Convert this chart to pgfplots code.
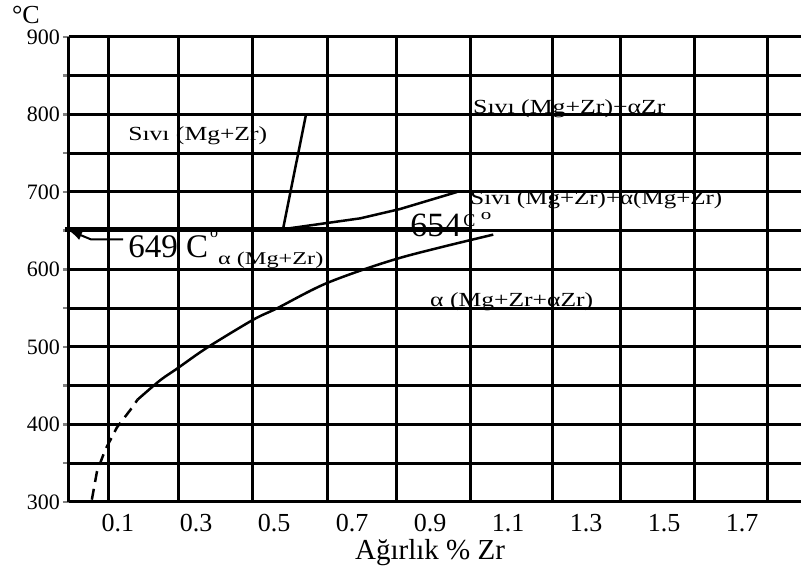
\documentclass[border=0pt]{standalone}
\usepackage{fontspec}
\setmainfont{Liberation Serif}
\usepackage{graphicx}
\usepackage{pgfplots}
\pgfplotsset{compat=1.18}
\usetikzlibrary{arrows.meta}
\newcommand{\fs}[1]{\fontsize{#1}{#1}\selectfont}
\newcommand{\wide}[2]{\scalebox{#1}[1]{#2}}
\begin{document}
\begin{tikzpicture}
\useasboundingbox (-69pt,-65pt) rectangle (732pt,502pt);
\begin{axis}[
  at={(0pt,0pt)}, anchor=south west,
  scale only axis, width=732pt, height=465pt,
  xmin=-0.0256, xmax=1.851, ymin=300, ymax=900,
  clip=false,
  axis x line*=bottom, axis y line*=left,
  axis line style={line width=3pt, black},
  grid=major,
  major grid style={line width=3pt, black},
  xtick={0.0744,0.254,0.446,0.636,0.815,1.003,1.213,1.387,1.577,1.764},
  xticklabels={,,,,,,,,,},
  xtick style={draw=none},
  extra x ticks={0.1,0.3,0.5,0.7,0.9,1.1,1.3,1.5,1.7},
  extra x tick labels={0.1,0.3,0.5,0.7,0.9,1.1,1.3,1.5,1.7},
  extra x tick style={grid=none, tick style={draw=none}},
  x tick label style={font={\fs{26}}, yshift=-4pt, inner sep=2pt},
  ytick={300,350,...,900},
  yticklabels={300,,400,,500,,600,,700,,800,,900},
  ytick style={line width=2.5pt},
  major tick length=6pt,
  tick align=outside,
  y tick label style={font={\fs{22}}, inner sep=3pt},
]
% thick eutectic line
\addplot[line width=5pt, black] coordinates {(-0.036,652) (1.003,652)};
% liquidus (steep)
\addplot[line width=2.5pt, black] coordinates {(0.523,652) (0.582,800)};
% upper boundary
\addplot[line width=2.5pt, black] coordinates {(0.523,652) (0.721,666) (0.823,678) (0.969,700)};
% solvus solid part
\addplot[line width=2.5pt, black, smooth] coordinates {(0.150,432) (0.208,457) (0.254,473) (0.328,499) (0.446,535) (0.508,550) (0.638,583) (0.823,615) (1.062,645)};
% solvus dashed part
\addplot[line width=2.5pt, black, dash pattern=on 11pt off 7pt] coordinates {(0.033,303) (0.046,339) (0.067,367) (0.097,396) (0.138,423) (0.150,432)};
% arrow
\addplot[line width=2pt, black, -{Latex[length=14pt,width=10pt]}] coordinates {(0.113,639) (0.03,639) (-0.028,651)};
% labels
\node[anchor=base west, inner sep=0] at (axis cs:-0.172,918) {\fs{26}°C};
\node[anchor=base west, inner sep=0] at (axis cs:0.126,767) {\fs{20}\wide{1.28}{Sıvı (Mg+Zr)}};
\node[anchor=base west, inner sep=0] at (axis cs:1.010,801) {\fs{20}\wide{1.29}{Sıvı (Mg+Zr)+αZr}};
\node[anchor=base west, inner sep=0] at (axis cs:1.003,684) {\fs{20}\wide{1.25}{Sıvı (Mg+Zr)+α(Mg+Zr)}};
\node[anchor=base west, inner sep=0] at (axis cs:0.900,552) {\fs{20}\wide{1.28}{α (Mg+Zr+αZr)}};
\node[anchor=base west, inner sep=0] at (axis cs:0.126,615) {\fs{33}649 C};
\node[anchor=base west, inner sep=0] at (axis cs:0.336,641) {\fs{16}o};
\node[anchor=base west, inner sep=0] at (axis cs:0.356,607) {\fs{18}\wide{1.35}{α (Mg+Zr)}};
\node[anchor=base west, inner sep=0] at (axis cs:0.849,642) {\fs{34}654};
\node[anchor=base west, inner sep=0] at (axis cs:0.985,655) {\fs{18}C};
\node[anchor=base west, inner sep=0] at (axis cs:1.030,664) {\fs{15}\wide{1.4}{o}};
\node[anchor=base, inner sep=0] at (axis cs:0.9,226) {\fs{29}Ağırlık \% Zr};
\end{axis}
\end{tikzpicture}
\end{document}
